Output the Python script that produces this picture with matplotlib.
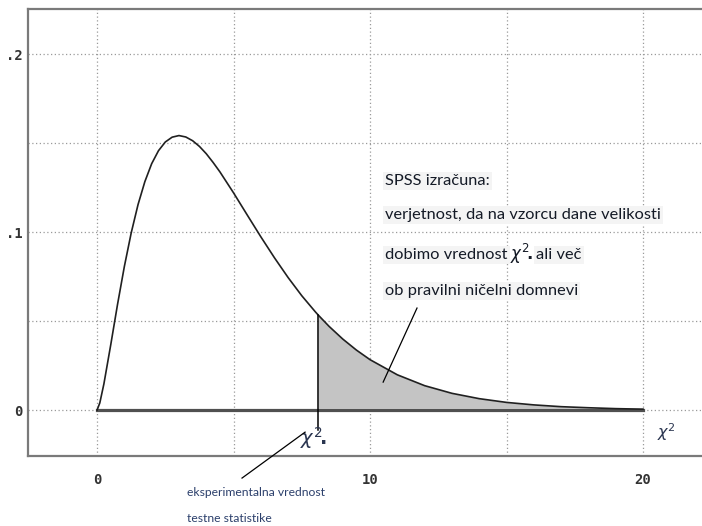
#!/usr/bin/env python3
# -*- coding: utf-8 -*-

import numpy as np
import matplotlib.pyplot as plt

# krivulja gostote (odcitano s slike)
x_pts = [0, 0.1, 0.25, 0.5, 0.75, 1, 1.25, 1.5, 1.75, 2, 2.25, 2.5, 2.75, 3,
         3.25, 3.5, 3.75, 4, 4.25, 4.5, 5, 5.5, 6, 6.5, 7, 7.5,
         8, 8.1, 8.5, 9, 9.5, 10, 11, 12, 13, 14, 15, 16, 17, 18, 19, 20]
y_pts = [0, 0.0040, 0.0147, 0.0366, 0.0594, 0.0807, 0.0995, 0.1154, 0.1283,
         0.1384, 0.1457, 0.1506, 0.1533, 0.1542, 0.1534, 0.1513, 0.1481,
         0.1440, 0.1391, 0.1338, 0.1220, 0.1096, 0.0973, 0.0855, 0.0744,
         0.0642, 0.0551, 0.0534, 0.0470, 0.0399, 0.0337, 0.0283, 0.0198,
         0.0137, 0.0094, 0.0064, 0.0043, 0.0029, 0.0019, 0.0013, 0.0008, 0.0005]
chi_obs = 8.1
x_ticks = [0, 10, 20]
x_ticklabels = ['0', '10', '20']
y_ticks = [0, 0.1, 0.2]
y_ticklabels = ['0', '.1', '.2']
x_grid = [0, 5, 10, 15, 20]
y_grid = [0, 0.05, 0.1, 0.15, 0.2]

txt_lines = ['SPSS izračuna:',
             'verjetnost, da na vzorcu dane velikosti',
             'dobimo vrednost',
             'ob pravilni ničelni domnevi']
txt_after = 'ali več'
txt_low = ['eksperimentalna vrednost', 'testne statistike']
chi_o = r'$\chi^2\!\mathbf{.}$'

x = np.array(x_pts)
y = np.array(y_pts)

fig = plt.figure(figsize=(7.02, 5.26), dpi=100)
ax = fig.add_axes([0.0399, 0.1331, 0.9601, 0.8498])
ax.set_xlim(-2.53, 22.16)
ax.set_ylim(-0.0258, 0.2253)

for g in x_grid:
	ax.axvline(g, color='#9a9a9a', lw=0.9, ls=(0, (1, 2)), zorder=0)
for g in y_grid:
	ax.axhline(g, color='#9a9a9a', lw=0.9, ls=(0, (1, 2)), zorder=0)

m = x >= chi_obs
ax.fill_between(x[m], 0.001, y[m], color='#c4c4c4', lw=0, zorder=1)
ax.plot([0, 20], [0, 0], color='#505050', lw=2.3, zorder=2)
ax.plot(x, y, color='#202020', lw=1.2, zorder=3)
ax.plot([chi_obs, chi_obs], [y[x == chi_obs][0], -0.011], color='black', lw=1.1, zorder=3)

# kazalci
ax.plot([11.72, 10.48], [0.0573, 0.0157], color='black', lw=0.9, zorder=4)
ax.plot([5.31, 7.62], [-0.0382, -0.0124], color='black', lw=0.9, clip_on=False, zorder=4)

ax.text(7.45, -0.0155, chi_o, fontsize=14, color='#2a3550', ha='left', va='center')
ax.text(20.5, -0.0125, r'$\chi^2$', fontsize=11.5, color='#2a3550', ha='left', va='center')

ys = [0.1285, 0.1095, 0.0870, 0.0670]
tx = 10.55
lines = []
for s, yy in zip(txt_lines, ys):
	t = ax.text(tx, yy, s, fontsize=11.8, family='Lato', color='#141a26', ha='left', va='center',
		bbox=dict(facecolor='#f4f4f4', edgecolor='none', pad=1.5))
	lines.append(t)
# chi v tretji vrstici
c = ax.annotate(chi_o, xy=(1, 0.5), xycoords=lines[2], xytext=(2, 1), textcoords='offset points',
	fontsize=12, color='#141a26', ha='left', va='center')
ax.annotate(txt_after, xy=(1, 0.5), xycoords=c, xytext=(2, -1), textcoords='offset points',
	fontsize=11.8, family='Lato', color='#141a26', ha='left', va='center',
	bbox=dict(facecolor='#f4f4f4', edgecolor='none', pad=1.5))

fig.text(187/702, 1-493/526, txt_low[0], fontsize=8.7, family='Lato', color='#2b3f6b', va='center')
fig.text(187/702, 1-519/526, txt_low[1], fontsize=8.7, family='Lato', color='#2b3f6b', va='center')

ax.set_xticks(x_ticks)
ax.set_xticklabels(x_ticklabels, family='DejaVu Sans Mono', fontweight='bold', fontsize=10, color='#333333')
ax.set_yticks(y_ticks)
ax.set_yticklabels(y_ticklabels, family='DejaVu Sans Mono', fontweight='bold', fontsize=10, color='#333333')
ax.tick_params(length=0, pad=12)
ax.tick_params(axis='y', pad=4)
for s in ['left', 'top', 'bottom']:
	ax.spines[s].set_color('#7a7a7a')
	ax.spines[s].set_linewidth(1.6)
ax.spines['right'].set_visible(False)

plt.savefig('out.png', dpi=100)
